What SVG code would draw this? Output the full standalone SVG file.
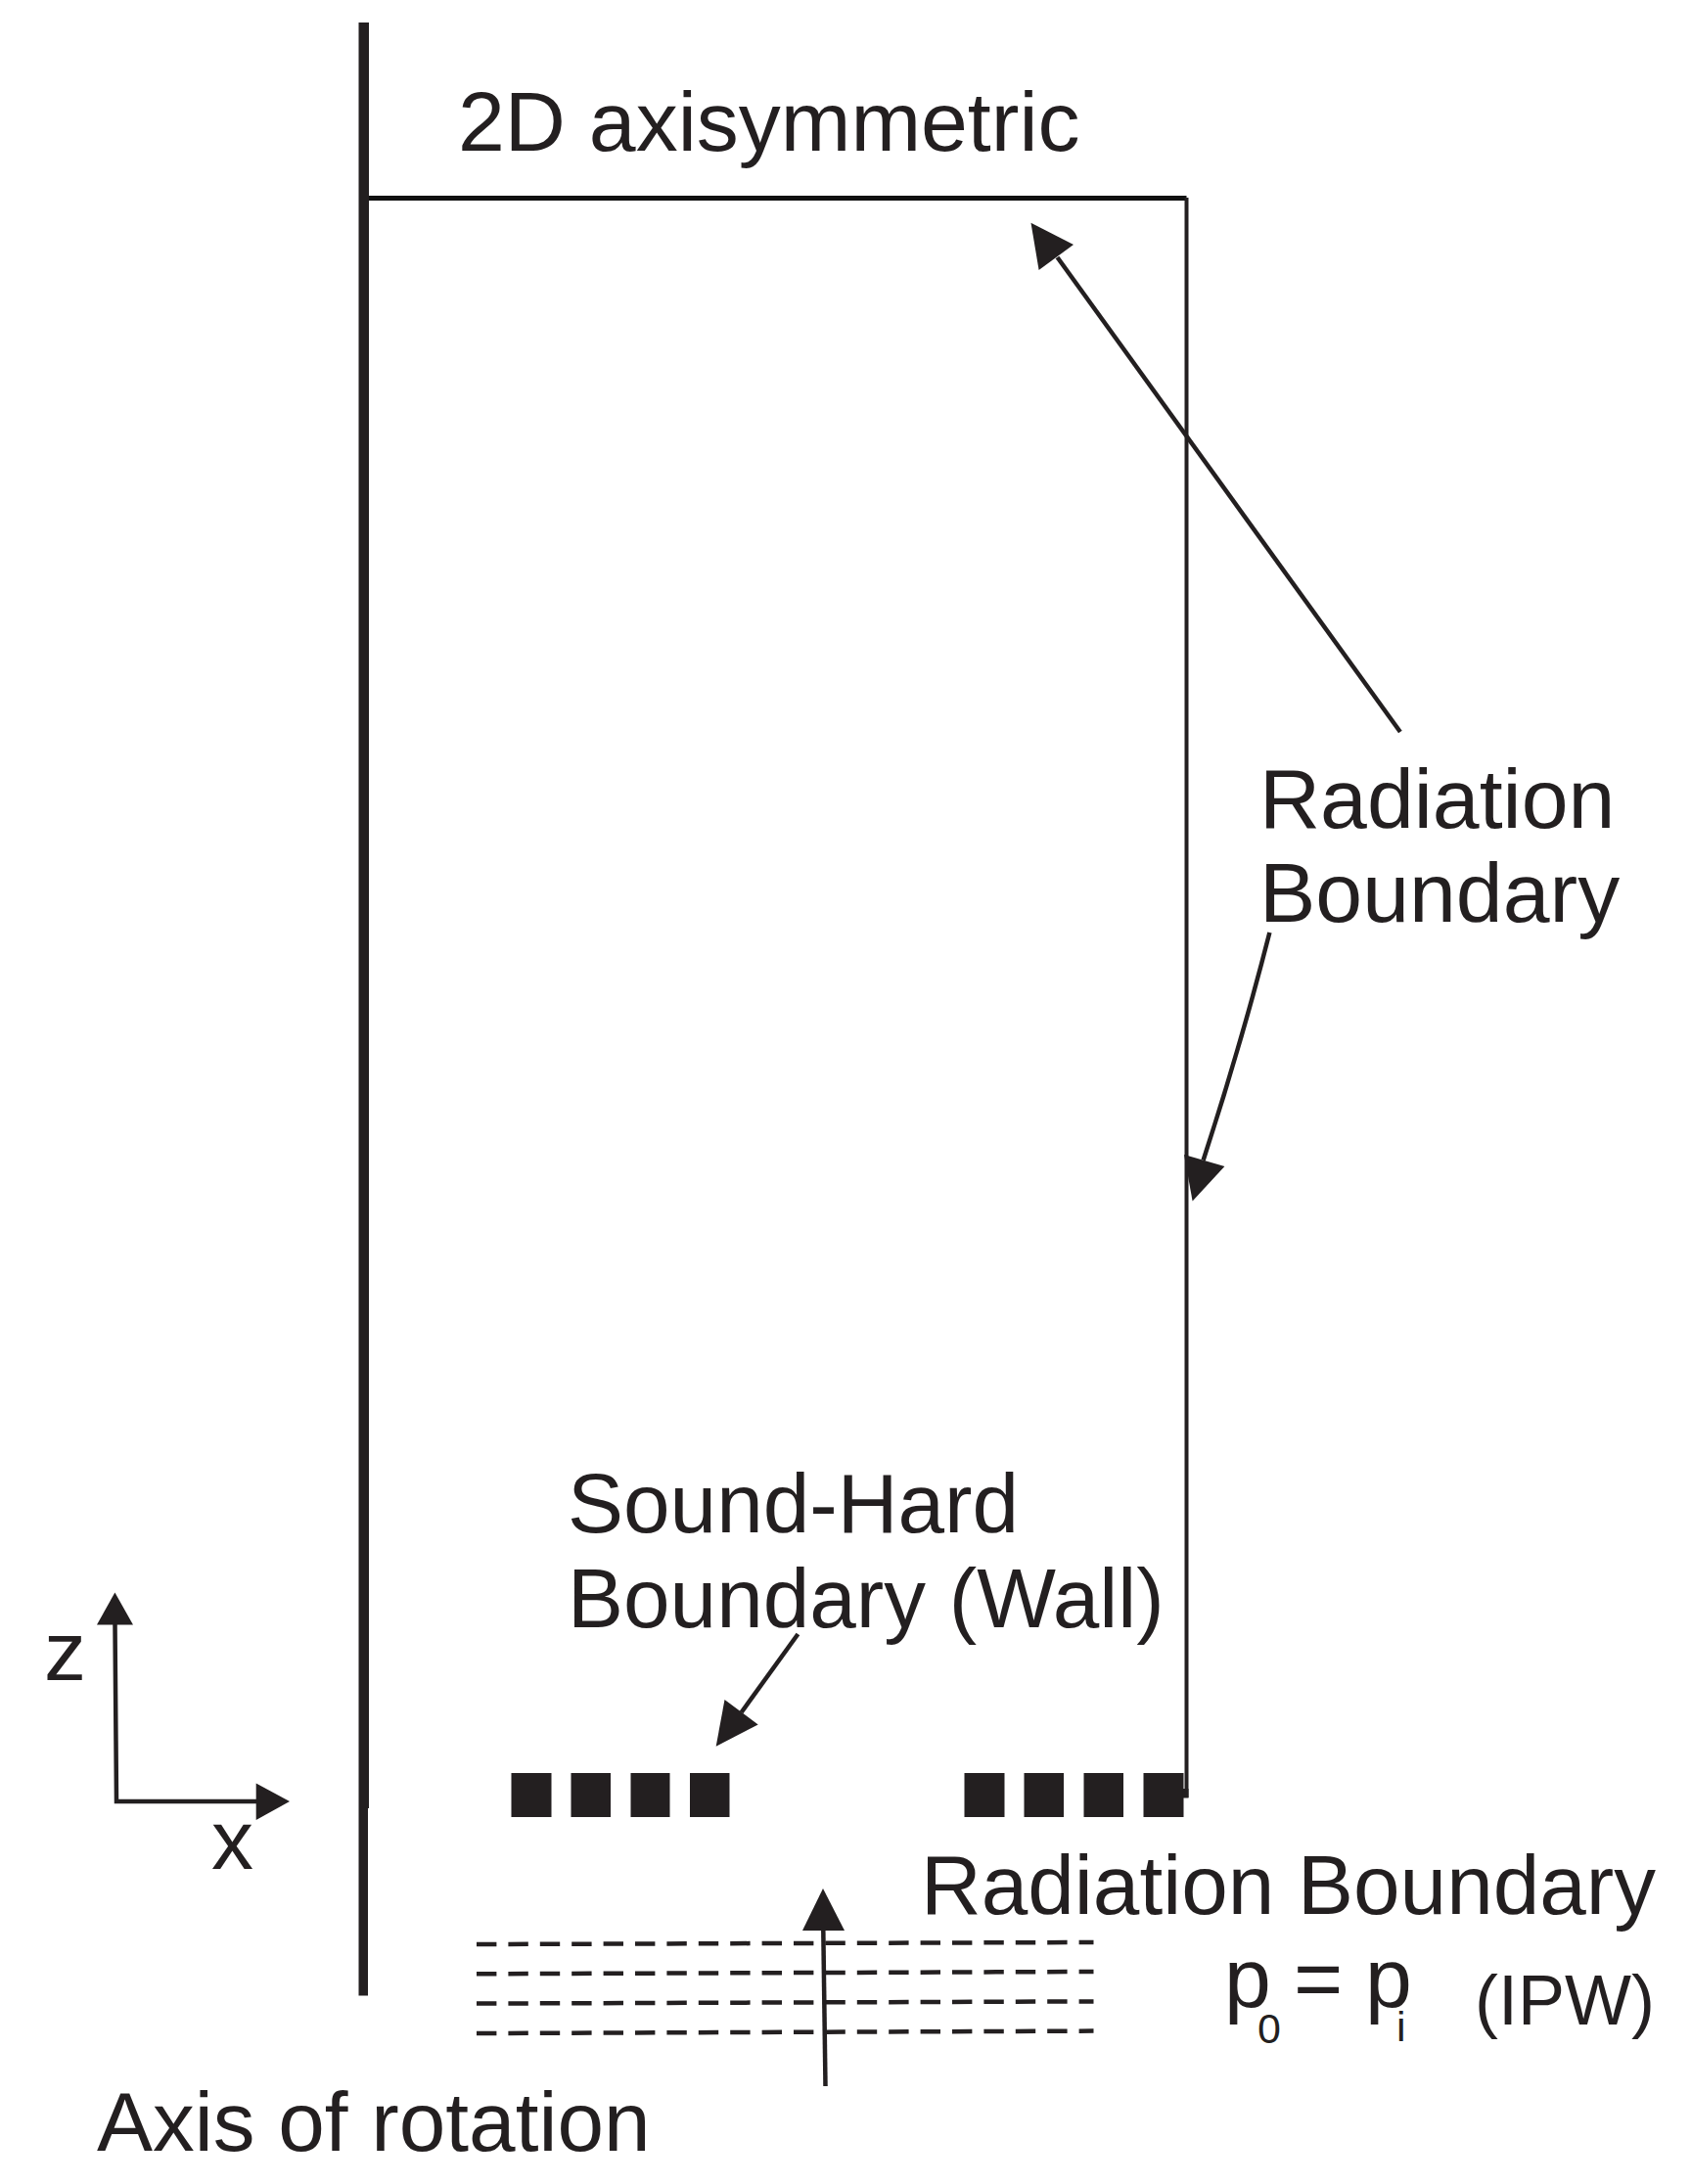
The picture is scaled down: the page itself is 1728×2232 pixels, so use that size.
<svg xmlns="http://www.w3.org/2000/svg" width="1728" height="2232" viewBox="0 0 1728 2232">
<style>
text{font-family:"Liberation Sans",Arial,sans-serif;font-size:86px;fill:#231f20}
.n{font-size:85.5px}
.s{font-size:43px}.m{font-size:72px}
.l{fill:none;stroke:#231f20;stroke-width:4.5}
.d{fill:none;stroke:#231f20;stroke-width:4.5;stroke-dasharray:20.4 12}
.h{fill:#231f20}
</style>
<rect width="1728" height="2232" fill="#fff"/>
<g id="axis"><rect class="h" x="366.5" y="23" width="10.5" height="1825"/><rect class="h" x="366.5" y="1848" width="9.5" height="191.5"/></g>
<g id="domain"><path d="M377 202.5H1212.5" fill="none" stroke="#111" stroke-width="5"/><path d="M1212.5 202V1837" fill="none" stroke="#231f20" stroke-width="4"/></g>
<g id="wall-left"><rect class="h" x="522.5" y="1812" width="41" height="45"/><rect class="h" x="583.5" y="1812" width="40.5" height="45"/><rect class="h" x="644.5" y="1812" width="40" height="45"/><rect class="h" x="705" y="1812" width="40.5" height="45"/></g>
<g id="wall-right"><rect class="h" x="985.5" y="1812" width="41" height="45"/><rect class="h" x="1046.5" y="1812" width="40.5" height="45"/><rect class="h" x="1107.5" y="1812" width="40.5" height="45"/><rect class="h" x="1168.5" y="1812" width="41" height="45"/><rect class="h" x="1208.5" y="1828" width="6" height="9.5"/></g>
<g id="incident-wave"><path class="d" d="M487 1987L1117.5 1985"/><path class="d" d="M487 2017.3L1117.5 2015"/><path class="d" d="M487 2047.6L1117.5 2045.4"/><path class="d" d="M487 2078L1117.5 2075.6"/></g>
<g id="connectors">
<path class="l" d="M117.5 1660L119 1841H262"/><path class="h" d="M117.4 1627.4L136 1660.5H99Z"/><path class="h" d="M296 1841L261.7 1860V1822.6Z"/>
<path class="l" d="M841.3 1972L843.5 2132"/><path class="h" d="M841 1930L863 1973H820Z"/>
<path class="l" d="M815.4 1670L757.6 1750"/><path class="h" d="M731.7 1784.7L740.5 1737L774.7 1762.5Z"/>
<path class="l" d="M1430.9 748L1080.5 263"/><path class="h" d="M1053.5 227.7L1097 250L1061.6 276Z"/>
<path class="l" d="M1297.4 953Q1268 1068 1229.6 1185.7"/><path class="h" d="M1218.6 1227.5L1210 1180L1251.4 1192Z"/>
</g>
<g id="labels">
<text x="468" y="154">2D axisymmetric</text>
<text x="1287" y="845.5">Radiation</text>
<text x="1287" y="942">Boundary</text>
<text class="n" x="580" y="1566">Sound-Hard</text>
<text class="n" x="580" y="1662.5">Boundary (Wall)</text>
<text x="45" y="1717">z</text>
<text x="216" y="1910">x</text>
<text class="n" x="941" y="1956">Radiation Boundary</text>
<text x="1251" y="2051">p</text>
<text class="s" x="1285" y="2088">0</text>
<text x="1322" y="2051">=</text>
<text x="1395" y="2051">p</text>
<text class="s" x="1427" y="2086">i</text>
<text class="m" x="1507" y="2069">(IPW)</text>
<text class="n" x="99" y="2198">Axis of rotation</text>
</g>
</svg>
